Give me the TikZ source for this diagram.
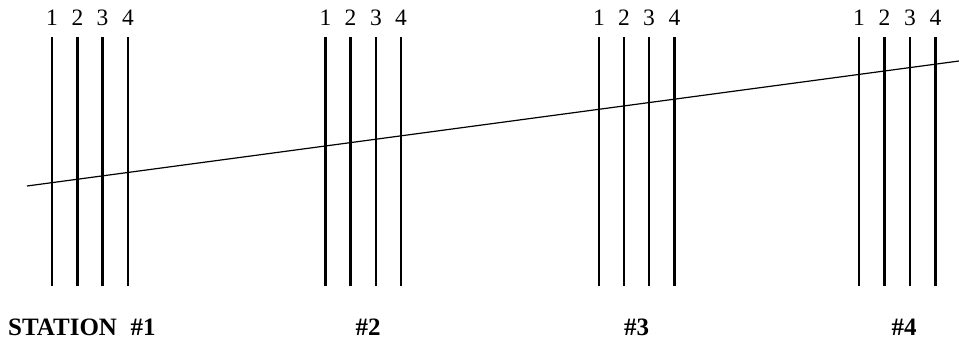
\documentclass[tikz,border=0pt]{standalone}
\usepackage{fontspec}
\setmainfont{Liberation Serif}
\begin{document}
\begin{tikzpicture}[x=1pt,y=-1pt,
  post/.style={line width=2.5pt},
  beam/.style={line width=1.2pt},
  num/.style={font=\fontsize{23.5}{23.5}\selectfont, anchor=base, inner sep=0pt},
  stn/.style={font=\fontsize{25}{25}\selectfont\bfseries, anchor=base, inner sep=0pt}]
\useasboundingbox (0,0) rectangle (959,341);
\foreach \s/\xa/\xb/\xc/\xd in {1/52/77.5/102.5/128, 2/325.5/350.5/376/401, 3/599/624/649/674.5, 4/859/884.5/910/935.5} {
  \foreach \k/\x in {1/\xa,2/\xb,3/\xc,4/\xd} {
    \coordinate (t\s\k) at (\x,37);
    \coordinate (b\s\k) at (\x,286);
    \draw[post] (t\s\k) -- (b\s\k);
    \node[num] (n\s\k) at (\x,25.5) {\k};
  }
}
\coordinate (L) at (27,186);
\coordinate (R) at (959,61);
\draw[beam] (L) -- (R);
\node[stn, anchor=base west] (s1) at (8,335) {STATION\hspace{0.55em}\#1};
\node[stn] (s2) at (368,335) {\#2};
\node[stn] (s3) at (636.5,335) {\#3};
\node[stn] (s4) at (904,335) {\#4};
\end{tikzpicture}
\end{document}
